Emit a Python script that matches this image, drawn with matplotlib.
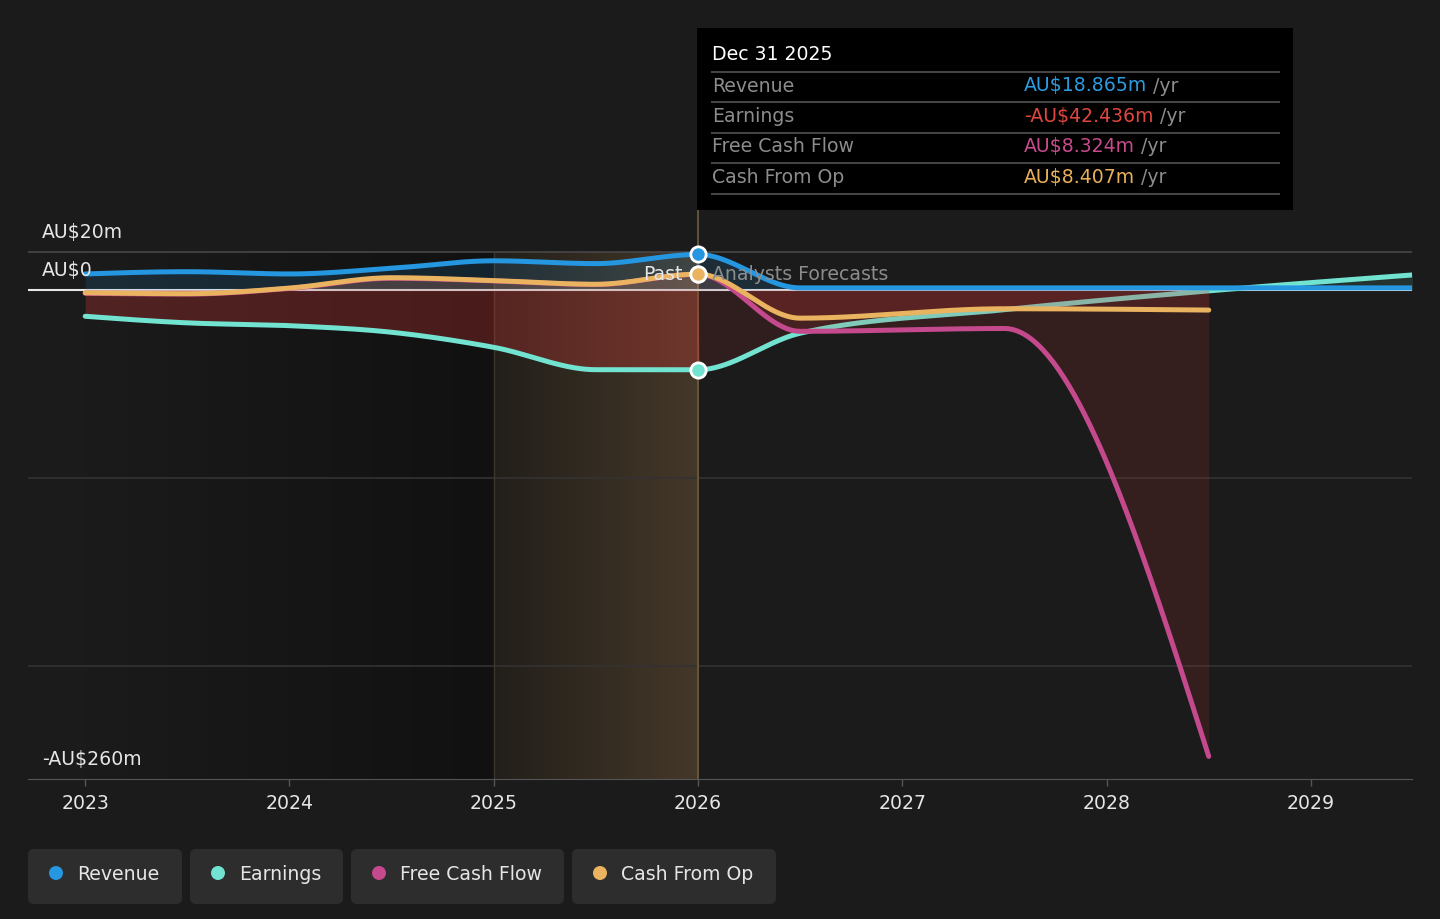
import numpy as np
import matplotlib
matplotlib.use("Agg")
import matplotlib.pyplot as plt
from matplotlib import patches
from matplotlib.colors import LinearSegmentedColormap
from matplotlib.transforms import blended_transform_factory

# data (AU$ m), Dec 31 2025 sits on the 2026 tick
past_x = [2023.0, 2023.5, 2024.0, 2024.5, 2025.0, 2025.5, 2026.0]
fc_x = [2026.5, 2027.5, 2028.5, 2029.5]

revenue_past = [8.5, 9.7, 8.5, 11.5, 15.5, 14.0, 18.865]
revenue_fc = [1.1, 1.1, 1.1, 1.1]
earnings_past = [-14.0, -17.5, -19.0, -22.5, -30.5, -42.4, -42.436]
earnings_fc = [-23.0, -10.5, -0.5, 8.0]
fcf_past = [-1.8, -2.2, 0.8, 6.2, 4.8, 2.9, 8.324]
fcf_fc = [-22.0, -20.5, -248.0]
cfo_past = [-1.5, -2.0, 1.0, 6.5, 5.0, 3.0, 8.407]
cfo_fc = [-15.0, -10.0, -10.7]

series_names = ["Revenue", "Earnings", "Free Cash Flow", "Cash From Op"]
series_colors = ["#2596e0", "#72e3d0", "#c5498d", "#e9b35f"]
tooltip_date = "Dec 31 2025"
tooltip_values = ["AU$18.865m", "-AU$42.436m", "AU$8.324m", "AU$8.407m"]
tooltip_colors = ["#2d9be0", "#e0463f", "#c54b8c", "#e8b05a"]
ytick_vals = [20, 0, -260]
ytick_labels = ["AU$20m", "AU$0", "-AU$260m"]
years = list(range(2023, 2030))

BG = "#1b1b1b"
RED = "#d03535"


def monotone(xs, ys, k=80):
    # d3 style monotoneX curve through the points
    x = np.asarray(xs, float)
    y = np.asarray(ys, float)
    h = np.diff(x)
    s = np.diff(y) / h
    n = len(x)
    m = np.zeros(n)
    for i in range(1, n - 1):
        p = (s[i - 1] * h[i] + s[i] * h[i - 1]) / (h[i - 1] + h[i])
        m[i] = (np.sign(s[i - 1]) + np.sign(s[i])) * min(abs(s[i - 1]), abs(s[i]), 0.5 * abs(p))
    m[0] = (3 * s[0] - m[1]) / 2
    m[-1] = (3 * s[-1] - m[-2]) / 2
    xx, yy = [], []
    for i in range(n - 1):
        t = np.linspace(0, 1, k, endpoint=(i == n - 2))
        h00 = 2 * t**3 - 3 * t**2 + 1
        h10 = t**3 - 2 * t**2 + t
        h01 = -2 * t**3 + 3 * t**2
        h11 = t**3 - t**2
        xx.append(x[i] + t * h[i])
        yy.append(h00 * y[i] + h10 * h[i] * m[i] + h01 * y[i + 1] + h11 * h[i] * m[i + 1])
    return np.concatenate(xx), np.concatenate(yy)


fig = plt.figure(figsize=(14.4, 9.19), dpi=100, facecolor=BG)
ax = fig.add_axes([28 / 1440, 140 / 919, 1384 / 1440, 569 / 919])
ax.set_facecolor(BG)

# past shading
grad = np.linspace(0, 1, 256).reshape(1, -1)
ax.imshow(grad, extent=[2023, 2025, -260, 20], aspect="auto", zorder=0.2,
          cmap=LinearSegmentedColormap.from_list("dk", [BG, "#111111"]))
ax.imshow(grad, extent=[2025, 2026, -260, 20], aspect="auto", zorder=0.2,
          cmap=LinearSegmentedColormap.from_list("hl", ["#221f1a", "#453829"]))

ax.axhline(20, color="#474747", lw=1.2, zorder=1)
for g in [-100, -200]:
    ax.axhline(g, color="#333333", lw=1.2, zorder=1)
ax.axhline(0, color="#e8e8e8", lw=1.5, zorder=1.8)
ax.plot([2025, 2025], [-260, 20], color="#3d362b", lw=1, zorder=1)
ax.axvline(2026, color="#6e5d3e", lw=1.2, zorder=1)

all_past = [revenue_past, earnings_past, fcf_past, cfo_past]
all_fc = [revenue_fc, earnings_fc, fcf_fc, cfo_fc]
curves = []
for p, f in zip(all_past, all_fc):
    xs = past_x + fc_x[:len(f)]
    curves.append(monotone(xs, p + f))

# fills: past (pos alpha, neg alpha), forecast (pos alpha, neg alpha), zorder
fill_cfg = [
    ((0.15, 0.15), (0.15, 0.12), 2),
    ((0.12, 0.30), (0.12, 0.12), 2),
    ((0.12, 0.15), (0.10, 0.14), 4),
    ((0.15, 0.15), (0.10, 0.14), 4),
]
for (cx, cy), col, (pa, fa, z) in zip(curves, series_colors, fill_cfg):
    for sel, (a_pos, a_neg) in [(cx <= 2026, pa), (cx >= 2026, fa)]:
        ax.fill_between(cx, cy, 0, where=sel & (cy >= 0), interpolate=True,
                        color=col, alpha=a_pos, lw=0, zorder=z)
        ax.fill_between(cx, cy, 0, where=sel & (cy <= 0), interpolate=True,
                        color=RED, alpha=a_neg, lw=0, zorder=z)

line_z = [5, 3, 5, 5.5]
for (cx, cy), col, z in zip(curves, series_colors, line_z):
    ax.plot(cx, cy, color=col, lw=3.6, solid_capstyle="round", zorder=z)

# markers at Dec 31 2025
for vals, col in zip([fcf_past, revenue_past, earnings_past, cfo_past],
                     [series_colors[2], series_colors[0], series_colors[1], series_colors[3]]):
    ax.plot(2026, vals[-1], "o", ms=11, mfc=col, mec="white", mew=2, zorder=7)

ax.set_xlim(2022.72, 2029.495)
ax.set_ylim(-260, 42.5)

for side in ["top", "left", "right"]:
    ax.spines[side].set_visible(False)
ax.spines["bottom"].set_color("#555555")
ax.set_xticks(years)
ax.set_xticklabels([str(y) for y in years])
ax.tick_params(axis="x", colors="#555555", length=5, width=1, labelcolor="#e6e6e6",
               labelsize=13.6, pad=6)
ax.set_yticks([])

ytrans = blended_transform_factory(ax.transAxes, ax.transData)
for v, lab in zip(ytick_vals, ytick_labels):
    ax.annotate(lab, xy=(14 / 1384, v), xycoords=ytrans, xytext=(0, 14),
                textcoords="offset pixels", va="baseline", ha="left",
                color="#e6e6e6", fontsize=13.6, zorder=8)

ptrans = blended_transform_factory(ax.transData, ax.transAxes)
ax.annotate("Past", xy=(2026, 0.8875), xycoords=ptrans, xytext=(-15, 0),
            textcoords="offset pixels", ha="right", va="center",
            color="#e6e6e6", fontsize=13.6, zorder=8)
ax.annotate("Analysts Forecasts", xy=(2026, 0.8875), xycoords=ptrans, xytext=(14, 0),
            textcoords="offset pixels", ha="left", va="center",
            color="#8c8c8c", fontsize=13.6, zorder=8)

# overlay in pixel coordinates: tooltip and legend
ov = fig.add_axes([0, 0, 1, 1], zorder=5)
ov.set_xlim(0, 1440)
ov.set_ylim(919, 0)
ov.axis("off")
ov.patch.set_alpha(0)

ov.add_patch(patches.Rectangle((697, 28), 596, 182, fc="black", ec="none"))
ov.text(712, 55, tooltip_date, color="white", fontsize=13.6, va="center")
for yy in [72, 102, 133, 163, 194]:
    ov.plot([712, 1279], [yy, yy], color="#444444", lw=1.5)
for i, (name, val, col) in enumerate(zip(series_names, tooltip_values, tooltip_colors)):
    y = 86 + i * 30.4
    ov.text(712, y, name, color="#8c8c8c", fontsize=13.6, va="center")
    t = ov.text(1024, y, val, color=col, fontsize=13.6, va="center")
    ov.annotate(" /yr", xy=(1, 0), xycoords=t, va="bottom", ha="left",
                color="#8c8c8c", fontsize=13.6)

pills = [(28, 154), (190, 153), (351, 213), (572, 204)]
for (x0, w), name, col in zip(pills, series_names, series_colors):
    ov.add_patch(patches.FancyBboxPatch((x0, 849), w, 55,
                                        boxstyle="round,pad=0,rounding_size=6",
                                        fc="#2d2d2d", ec="none"))
    ov.add_patch(patches.Circle((x0 + 28, 873), 7, fc=col, ec="none"))
    ov.text(x0 + 49, 874, name, color="#e6e6e6", fontsize=13.6, va="center")

fig.savefig("out.png", dpi=100, facecolor=BG)
